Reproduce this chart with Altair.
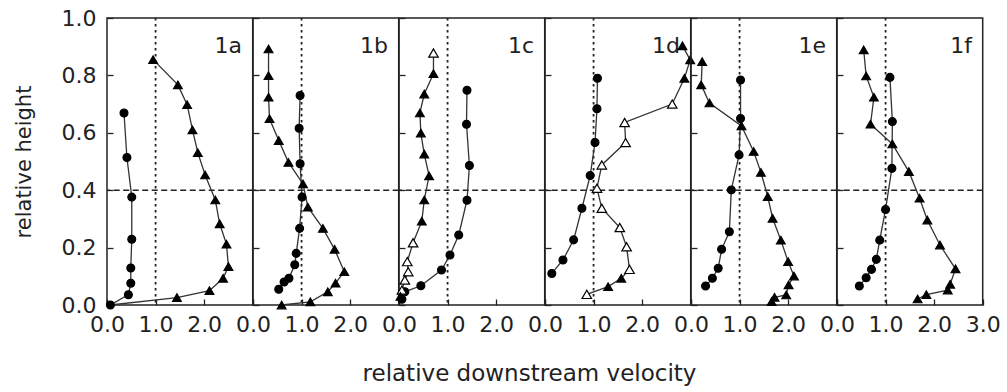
import altair as alt
import pandas as pd

FONT = "DejaVu Sans"
INK = "#222222"

panel_names = ["1a", "1b", "1c", "1d", "1e", "1f"]

# ---- panel 1a ----
a_circ_x = [0.35, 0.41, 0.51, 0.51, 0.49, 0.49, 0.44, 0.07]
a_circ_y = [0.669, 0.514, 0.376, 0.229, 0.129, 0.076, 0.036, 0.0]
a_tri_x = [0.95, 1.46, 1.65, 1.76, 1.87, 2.02, 2.23, 2.32, 2.46, 2.50, 2.39, 2.11, 1.44, 0.07]
a_tri_y = [0.855, 0.767, 0.698, 0.610, 0.531, 0.453, 0.366, 0.283, 0.212, 0.134, 0.093, 0.050, 0.026, 0.0]
a_tri_m = ["t", "t", "t", "t", "t", "t", "t", "t", "t", "t", "t", "t", "t", "-"]

# ---- panel 1b ----
b_circ_x = [0.97, 0.95, 0.97, 1.01, 0.96, 0.89, 0.86, 0.74, 0.64, 0.53]
b_circ_y = [0.730, 0.616, 0.492, 0.376, 0.267, 0.180, 0.140, 0.093, 0.080, 0.055]
b_tri_x = [0.32, 0.32, 0.32, 0.34, 0.53, 0.73, 1.03, 1.13, 1.44, 1.68, 1.88, 1.70, 1.54, 1.18, 0.59]
b_tri_y = [0.892, 0.799, 0.724, 0.649, 0.573, 0.497, 0.422, 0.341, 0.267, 0.194, 0.116, 0.076, 0.046, 0.011, 0.0]
b_tri_m = ["t", "t", "t", "t", "t", "t", "t", "t", "t", "t", "t", "t", "t", "t", "t"]

# ---- panel 1c ----
c_circ_x = [1.40, 1.39, 1.45, 1.40, 1.23, 1.05, 0.875, 0.45, 0.12, 0.06]
c_circ_y = [0.748, 0.630, 0.486, 0.365, 0.244, 0.174, 0.122, 0.067, 0.046, 0.02]
c_tri_x = [0.71, 0.71, 0.52, 0.43, 0.45, 0.52, 0.62, 0.52, 0.47, 0.29, 0.17, 0.19, 0.12, 0.06, 0.03]
c_tri_y = [0.878, 0.806, 0.735, 0.669, 0.599, 0.526, 0.450, 0.366, 0.292, 0.217, 0.151, 0.116, 0.087, 0.052, 0.03]
c_tri_m = ["o", "t", "t", "t", "t", "t", "t", "t", "t", "o", "o", "o", "o", "o", "t"]

# ---- panel 1d ----
d_circ_x = [1.08, 1.07, 1.03, 0.93, 0.76, 0.59, 0.37, 0.14]
d_circ_y = [0.790, 0.684, 0.566, 0.451, 0.337, 0.227, 0.157, 0.110]
d_tri_x = [2.83, 2.99, 2.87, 2.62, 1.64, 1.66, 1.17, 1.07, 1.17, 1.54, 1.68, 1.74, 1.57, 1.30, 0.86]
d_tri_y = [0.903, 0.854, 0.790, 0.700, 0.636, 0.566, 0.488, 0.407, 0.337, 0.270, 0.203, 0.124, 0.093, 0.064, 0.037]
d_tri_m = ["t", "t", "t", "o", "o", "o", "o", "o", "o", "o", "o", "o", "t", "t", "o"]

# ---- panel 1e ----
e_circ_x = [1.02, 1.02, 0.99, 0.83, 0.79, 0.63, 0.56, 0.44, 0.30]
e_circ_y = [0.784, 0.650, 0.523, 0.401, 0.255, 0.194, 0.128, 0.093, 0.066]
e_tri_x = [0.23, 0.21, 0.38, 1.04, 1.29, 1.44, 1.58, 1.68, 1.85, 2.00, 2.12, 2.01, 1.96, 1.72, 1.66]
e_tri_y = [0.848, 0.767, 0.704, 0.624, 0.535, 0.462, 0.378, 0.302, 0.226, 0.151, 0.101, 0.070, 0.035, 0.027, 0.012]
e_tri_m = ["t", "t", "t", "t", "t", "t", "t", "t", "t", "t", "t", "t", "t", "t", "t"]

# ---- panel 1f ----
f_circ_x = [1.09, 1.14, 1.13, 1.00, 0.88, 0.81, 0.71, 0.60, 0.46]
f_circ_y = [0.793, 0.639, 0.476, 0.333, 0.226, 0.159, 0.124, 0.095, 0.066]
f_tri_x = [0.55, 0.60, 0.76, 0.69, 1.14, 1.48, 1.70, 1.86, 2.12, 2.44, 2.33, 2.28, 1.84, 1.66]
f_tri_y = [0.889, 0.798, 0.724, 0.630, 0.561, 0.465, 0.372, 0.296, 0.209, 0.126, 0.072, 0.052, 0.036, 0.021]
f_tri_m = ["t", "t", "t", "t", "t", "t", "t", "t", "t", "t", "t", "t", "t", "t"]

ref_velocity = 1.0
ref_height = 0.4
x_ticks = [0.0, 0.5, 1.0, 1.5, 2.0, 2.5, 3.0]
y_ticks = [0.0, 0.1, 0.2, 0.3, 0.4, 0.5, 0.6, 0.7, 0.8, 0.9, 1.0]
label_x = 2.78
label_y = 0.877

panel_data = [
    (a_circ_x, a_circ_y, a_tri_x, a_tri_y, a_tri_m),
    (b_circ_x, b_circ_y, b_tri_x, b_tri_y, b_tri_m),
    (c_circ_x, c_circ_y, c_tri_x, c_tri_y, c_tri_m),
    (d_circ_x, d_circ_y, d_tri_x, d_tri_y, d_tri_m),
    (e_circ_x, e_circ_y, e_tri_x, e_tri_y, e_tri_m),
    (f_circ_x, f_circ_y, f_tri_x, f_tri_y, f_tri_m),
]

PW = 145.7
PH = 287

xscale = alt.Scale(domain=[0, 3], nice=False, zero=False)
yscale = alt.Scale(domain=[0, 1], nice=False, zero=False)


def build_panel(i, name, cx, cy, tx, ty, tm):
    rows = []
    for k, (x, y) in enumerate(zip(cx, cy)):
        rows.append({"series": "circ", "order": k, "x": x, "y": y, "m": "c"})
    for k, (x, y, m) in enumerate(zip(tx, ty, tm)):
        rows.append({"series": "tri", "order": k, "x": x, "y": y, "m": m})
    df = pd.DataFrame(rows)

    last = i == len(panel_names) - 1
    first = i == 0
    if last:
        lab_expr = "datum.value % 1 == 0 ? format(datum.value, '.1f') : ''"
    else:
        lab_expr = "(datum.value % 1 == 0 && datum.value < 2.9) ? format(datum.value, '.1f') : ''"

    x_axis_kwargs = dict(
        values=x_ticks, labelExpr=lab_expr, tickSize=6, offset=-6, domain=False,
        grid=False, labelPadding=9, labelFlush=False, labelOverlap=False,
        labelFont=FONT, labelFontSize=22, labelColor=INK, tickColor=INK, tickWidth=1.3,
    )
    if i == 2:
        x_axis = alt.Axis(title="relative downstream velocity", titleFont=FONT, titleFontSize=23,
                          titleFontWeight="normal", titleColor=INK, titleX=130, titleY=81,
                          titleBaseline="alphabetic", titleAnchor="middle", **x_axis_kwargs)
    else:
        x_axis = alt.Axis(title=None, **x_axis_kwargs)

    if first:
        y_axis = alt.Axis(
            values=y_ticks, tickSize=6, offset=-6, domain=False, grid=False,
            labelExpr="round(datum.value * 10) % 2 == 0 ? format(datum.value, '.1f') : ''",
            labelPadding=11, labelFont=FONT, labelFontSize=22, labelColor=INK,
            labelOverlap=False, labelFlush=False,
            tickColor=INK, tickWidth=1.3,
            title="relative height", titleFont=FONT, titleFontSize=21, titleFontWeight="normal",
            titleColor=INK, titlePadding=27,
        )
    else:
        y_axis = alt.Axis(values=y_ticks, tickSize=6, offset=-6, domain=False, grid=False,
                          labels=False, title=None, tickColor=INK, tickWidth=1.3)

    base = alt.Chart(df)
    lines = base.mark_line(color="#333333", strokeWidth=1.3).encode(
        x=alt.X("x:Q", scale=xscale, axis=x_axis),
        y=alt.Y("y:Q", scale=yscale, axis=y_axis),
        detail="series:N",
        order="order:Q",
    )
    pts = base.transform_filter("datum.m != '-'").mark_point(
        stroke="black", strokeWidth=1.2, opacity=1, fillOpacity=1
    ).encode(
        x="x:Q",
        y="y:Q",
        shape=alt.Shape("m:N", scale=alt.Scale(domain=["c", "t", "o"],
                        range=["circle", "triangle-up", "triangle-up"]), legend=None),
        fill=alt.Fill("m:N", scale=alt.Scale(domain=["c", "t", "o"],
                      range=["black", "black", "white"]), legend=None),
        size=alt.Size("m:N", scale=alt.Scale(domain=["c", "t", "o"], range=[62, 90, 90]),
                      legend=None),
    )
    vline = alt.Chart().mark_rule(color=INK, strokeWidth=1.8, strokeDash=[2.5, 3.5]).encode(
        x=alt.datum(ref_velocity))
    hline = alt.Chart().mark_rule(color=INK, strokeWidth=1.6, strokeDash=[6, 3.5]).encode(
        y=alt.datum(ref_height))
    txt = alt.Chart().mark_text(align="right", baseline="alphabetic", font=FONT,
                                fontSize=22, color=INK).encode(
        x=alt.datum(label_x), y=alt.datum(label_y), text=alt.datum(name))
    return alt.layer(vline, hline, txt, lines, pts).properties(width=PW, height=PH)


panels = [build_panel(i, n, *panel_data[i]) for i, n in enumerate(panel_names)]

chart = alt.hconcat(*panels, spacing=0, bounds="flush").configure_view(
    stroke="#222222", strokeWidth=1.5
).properties(
    padding={"left": 12, "top": 6, "right": 5, "bottom": 0},
    background="white",
)

chart.save("out.html", embed_options={"renderer": "svg", "actions": False})
